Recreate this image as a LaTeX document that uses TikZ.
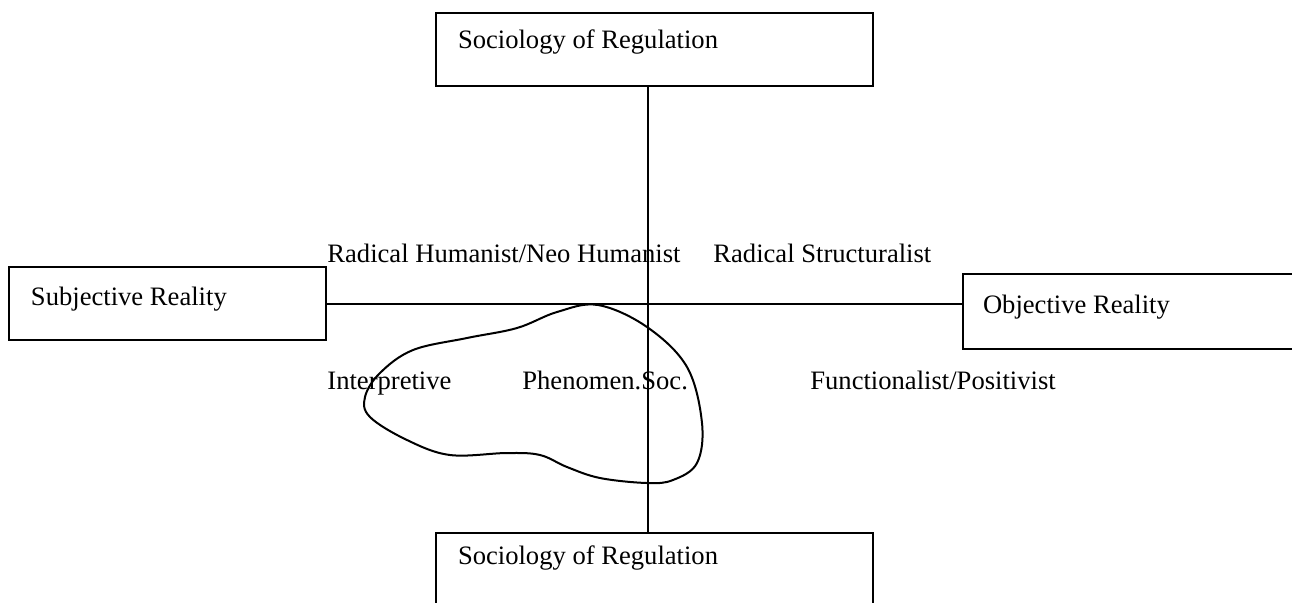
\documentclass[tikz,border=0pt]{standalone}
\usepackage{fontspec}
\setmainfont{Liberation Serif}
\usepackage{tikz}
\usetikzlibrary{positioning,calc}

\begin{document}
\begin{tikzpicture}[x=0.5pt,y=-0.5pt,font=\fontsize{13.3}{16}\selectfont,
   frame/.style={draw,line width=1pt,anchor=north west,inner ysep=0pt,inner xsep=11pt,
                 align=flush left},
   lbl/.style={anchor=base west,inner sep=0pt}]
  \useasboundingbox (0,0) rectangle (1292,602);
  % boxes
  \node[frame,text width=196.5pt,text height=17.5pt,text depth=19pt] (reg) at (435,12) {Sociology of Regulation};
  \node[frame,text width=136.5pt,text height=19pt,text depth=17.5pt] (subj) at (8,266) {Subjective Reality};
  \node[frame,inner xsep=10pt,text width=150pt,text height=19.5pt,text depth=18pt] (obj) at (962,273) {Objective Reality};
  \node[frame,text width=196.5pt,text height=15.5pt,text depth=30pt] (regb) at (435,532) {Sociology of Regulation};
  % axes
  \coordinate (axis) at (648,304);
  \draw[line width=1pt] (reg.south -| axis) -- (regb.north -| axis);
  \draw[line width=1pt] (subj.east) -- (obj.west |- subj.east);
  % quadrant labels
  \node[lbl] (rh) at (327,262) {Radical Humanist/Neo Humanist};
  \node[lbl] (rs) at (713,262) {Radical Structuralist};
  \node[lbl] (int) at (327,389) {Interpretive};
  \node[lbl] (phs) at (522,389) {Phenomen.Soc.};
  \node[lbl] (fp) at (810,389) {Functionalist/Positivist};
  % blob
  \draw[line width=1pt] plot[smooth cycle,tension=0.6] coordinates {
    (598,305) (647,327) (687,367) (702,423) (697,463) (673,480) (647,483)
    (600,478) (567,467) (540,455) (507,453) (450,455) (407,440) (370,417)
    (365,397) (380,373) (413,350) (467,338) (517,328) (557,312)};
\end{tikzpicture}
\end{document}
